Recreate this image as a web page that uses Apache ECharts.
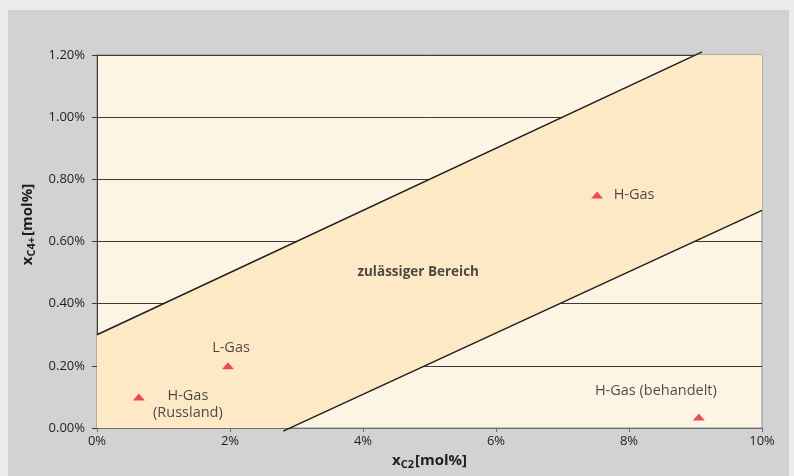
<!DOCTYPE html>
<html>
<head>
<meta charset="utf-8">
<script src="https://cdn.jsdelivr.net/npm/echarts@6/dist/echarts.min.js"></script>
<style>
html,body{margin:0;padding:0;background:#ececec;}
#c{width:794px;height:476px;}
</style>
</head>
<body>
<div id="c"></div>
<script>
// ---- data ----
const pointNames = ['H-Gas\n(Russland)', 'L-Gas', 'H-Gas', 'H-Gas (behandelt)'];
const xC2 = [0.63, 1.97, 7.52, 9.05];          // % mol
const xC4 = [0.10, 0.20, 0.75, 0.035];         // % mol
const upperLimit = [[0, 0.30], [9.1, 1.21]];
const lowerLimit = [[2.8, -0.01], [10, 0.70]];
const regionLabel = 'zulässiger Bereich';
const regionAnchor = [4.83, 0.50];
const xTickStep = 2, yTickStep = 0.2;
const xMax = 10, yMax = 1.2;

// ---- styling ----
const FONT = 'Open Sans';
const TXT = '#1e1e1e';
const labelOffsets = [[49, 7], [3, -18], [37, 0], [-43, -26]];

const chart = echarts.init(document.getElementById('c'), null, {renderer: 'canvas'});

const scatterData = xC2.map((x, i) => ({
  value: [x, xC4[i]],
  name: pointNames[i],
  label: {offset: labelOffsets[i]}
}));

const nameRich = {
  x: {fontFamily: FONT, fontWeight: 'bold', fontSize: 15, color: TXT},
  sub: {fontFamily: FONT, fontWeight: 'bold', fontSize: 11, color: TXT, padding: [8, 1, 0, 0]},
  b: {fontFamily: FONT, fontWeight: 'bold', fontSize: 15, color: TXT}
};

const option = {
  animation: false,
  backgroundColor: '#ececec',
  graphic: [{
    type: 'rect', z: -10, silent: true,
    shape: {x: 8, y: 10, width: 781, height: 470},
    style: {fill: '#d1d2d4'}
  }],
  grid: {
    left: 97, right: 32, top: 55, bottom: 48,
    show: true, backgroundColor: '#fdf5e4', borderColor: '#8a8a8a', borderWidth: 1
  },
  xAxis: {
    type: 'value', min: 0, max: xMax, interval: xTickStep,
    name: '{x|x}{sub|C2}{b|[mol%]}',
    nameLocation: 'middle', nameGap: 18,
    nameTextStyle: {rich: nameRich},
    axisLine: {show: true, lineStyle: {color: '#6e6e6e', width: 1}},
    axisTick: {show: true, inside: false, length: 4, lineStyle: {color: '#6e6e6e'}},
    axisLabel: {fontFamily: FONT, fontSize: 13, color: TXT, margin: 7, formatter: v => v + '%'},
    splitLine: {show: false}
  },
  yAxis: {
    type: 'value', min: 0, max: yMax, interval: yTickStep,
    name: '{x|x}{sub|C4+}{b|[mol%]}',
    nameLocation: 'middle', nameGap: 58, nameRotate: 90,
    nameTextStyle: {rich: nameRich, padding: [0, 0, 0, 34]},
    axisLine: {show: true, lineStyle: {color: '#3a3a3a', width: 1}},
    axisTick: {show: true, inside: false, length: 5, lineStyle: {color: '#3a3a3a'}},
    axisLabel: {fontFamily: FONT, fontSize: 13, color: TXT, margin: 12, formatter: v => v.toFixed(2) + '%'},
    splitLine: {show: true, lineStyle: {color: '#3a3a3a', width: 1}}
  },
  series: [
    {
      type: 'custom', clip: true, z: 1, silent: true,
      renderItem: (params, api) => {
        const poly = [
          upperLimit[0], upperLimit[1], [xMax, upperLimit[1][1]],
          lowerLimit[1], lowerLimit[0], [upperLimit[0][0], lowerLimit[0][1]]
        ].map(p => api.coord(p));
        return {type: 'polygon', shape: {points: poly}, style: {fill: '#fee9c6'}};
      },
      data: [0]
    },
    {
      type: 'line', data: upperLimit, clip: false, symbol: 'none', z: 3, silent: true,
      lineStyle: {color: '#1e1e1e', width: 1.5}
    },
    {
      type: 'line', data: lowerLimit, clip: false, symbol: 'none', z: 3, silent: true,
      lineStyle: {color: '#1e1e1e', width: 1.5}
    },
    {
      type: 'scatter', data: scatterData, z: 5,
      symbol: 'triangle', symbolSize: [12, 7],
      itemStyle: {color: '#e8222a'},
      label: {
        show: true, position: 'inside', formatter: p => p.name,
        align: 'center', verticalAlign: 'middle',
        fontFamily: FONT, fontSize: 14.5, color: TXT, lineHeight: 17
      }
    },
    {
      type: 'scatter', data: [{value: regionAnchor, name: regionLabel}], symbolSize: 0, z: 5,
      label: {
        show: true, position: 'inside', formatter: p => p.name,
        fontFamily: FONT, fontSize: 13.5, fontWeight: 'bold', color: TXT
      }
    }
  ]
};
chart.setOption(option);
</script>
</body>
</html>
